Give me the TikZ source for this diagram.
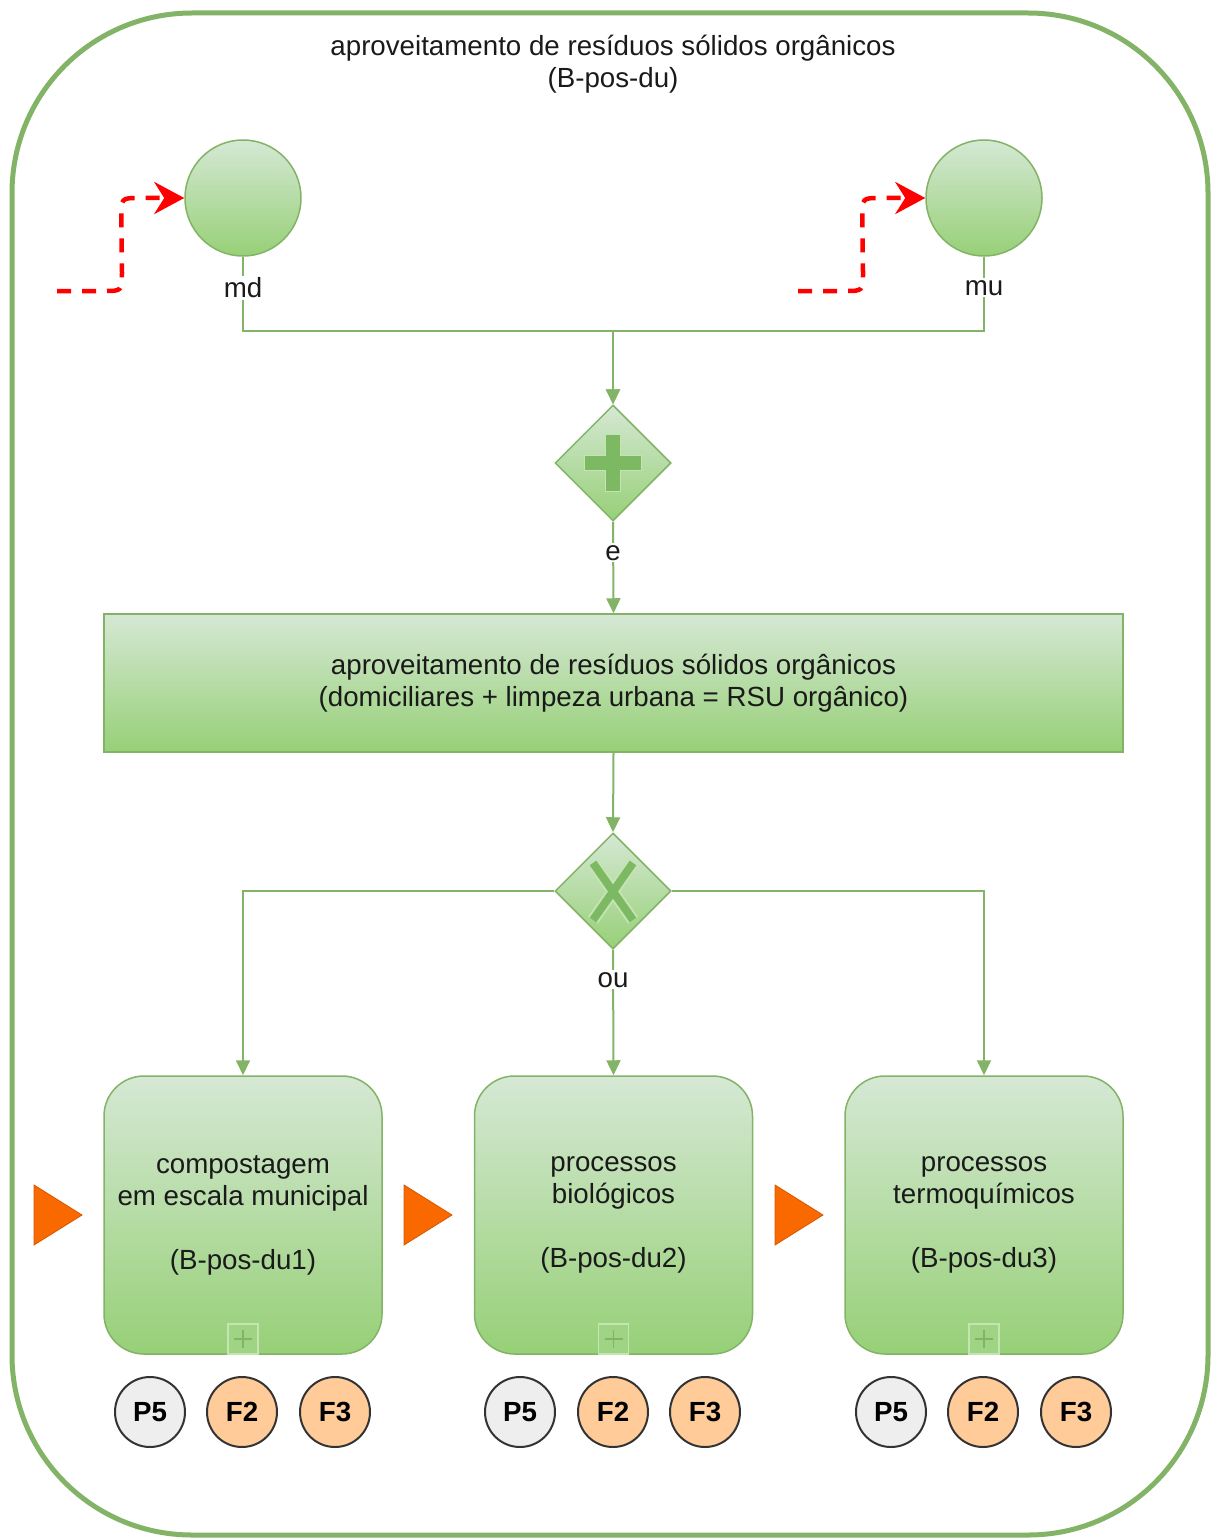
\documentclass[tikz,border=0pt]{standalone}
\usepackage{fontspec}
\setmainfont{Liberation Sans}
\usetikzlibrary{shapes.geometric,arrows.meta,calc}

\definecolor{gline}{HTML}{82B366}
\definecolor{gtop}{HTML}{D5E8D4}
\definecolor{gbot}{HTML}{97D077}
\definecolor{gdark}{HTML}{7DB862}
\definecolor{glight}{HTML}{C4E4B2}
\definecolor{peach}{HTML}{FFCC99}
\definecolor{pale}{HTML}{EEEEEE}
\definecolor{tagline}{HTML}{333333}
\definecolor{orangeT}{HTML}{FA6800}
\definecolor{inkred}{HTML}{FF0000}
\definecolor{ink}{HTML}{1A1A1A}

\newcommand{\bodyfont}{\fontsize{27.7}{32}\selectfont}

\tikzset{
  flow/.style={draw=gline, line width=2pt, -{Triangle[length=15pt,width=14pt]}},
  reddash/.style={draw=inkred, line width=4.5pt, dash pattern=on 14pt off 11pt,
    -{Stealth[length=30pt,width=32pt,inset=10pt]}},
  ev/.style={circle, draw=gline, line width=1.5pt, top color=gtop, bottom color=gbot,
    minimum size=116pt, inner sep=0pt},
  gate/.style={diamond, aspect=1, draw=gline, line width=1.5pt, top color=gtop,
    bottom color=gbot, minimum width=116pt, minimum height=116pt, inner sep=0pt},
  task/.style={rectangle, draw=gline, line width=1.5pt, top color=gtop, bottom color=gbot,
    align=center, font=\bodyfont, text=ink},
  subproc/.style={task, rounded corners=40pt, minimum width=278pt, minimum height=278pt,
    inner sep=0pt},
  marker/.style={rectangle, draw=glight, line width=1.5pt, fill=gbot!85!gtop,
    minimum size=30pt, inner sep=0pt, anchor=south,
    path picture={
      \draw[gline, line width=1.6pt]
        ($(path picture bounding box.center)+(-9,0)$) -- ++(18,0)
        ($(path picture bounding box.center)+(0,-9)$) -- ++(0,18);}},
  lbl/.style={fill=white, inner sep=2pt, font=\bodyfont, text=ink},
  tag/.style={circle, draw=tagline, line width=2pt, minimum size=70pt, inner sep=0pt,
    font=\bodyfont\bfseries, text=black},
  ptag/.style={tag, fill=pale},
  ftag/.style={tag, fill=peach},
  pointer/.style={fill=orangeT, draw=orangeT!85!black, line width=0.8pt},
}

\begin{document}
\begin{tikzpicture}[x=1pt,y=-1pt]
  \useasboundingbox (0,0) rectangle (1210,1538);

  % pool frame
  \draw[gline, line width=5pt, rounded corners=180pt] (12,13) rectangle (1208,1535);
  \node[font=\bodyfont, align=center, text=ink] (title) at (613,64)
    {aproveitamento de resíduos sólidos orgânicos\\(B-pos-du)};

  % start events
  \node[ev] (md) at (243,198) {};
  \node[ev] (mu) at (984,198) {};
  \coordinate (mdsrc) at (57,291);
  \coordinate (musrc) at (798,291);
  \draw[reddash] (mdsrc) -- ($(mdsrc)+(47,0)$)
    .. controls ($(mdsrc)+(65,0)$) .. ($(mdsrc)+(65,-19)$)
    -- ($(md.west)+(-63,19)$)
    .. controls ($(md.west)+(-63,0)$) .. ($(md.west)+(-45,0)$) -- (md.west);
  \draw[reddash] (musrc) -- ($(musrc)+(47,0)$)
    .. controls ($(musrc)+(65,0)$) .. ($(musrc)+(65,-19)$)
    -- ($(mu.west)+(-63,19)$)
    .. controls ($(mu.west)+(-63,0)$) .. ($(mu.west)+(-45,0)$) -- (mu.west);

  % parallel gateway
  \node[gate] (and) at (613,463) {};
  \begin{scope}[shift={(and.center)}]
    \draw[fill=gdark, draw=glight, line width=1.5pt]
      (-7.5,-28.5) -- (7.5,-28.5) -- (7.5,-7.5) -- (28.5,-7.5) -- (28.5,7.5)
      -- (7.5,7.5) -- (7.5,28.5) -- (-7.5,28.5) -- (-7.5,7.5) -- (-28.5,7.5)
      -- (-28.5,-7.5) -- (-7.5,-7.5) -- cycle;
  \end{scope}

  \draw[flow] (md.south) -- node[lbl, pos=0.42] {md} ++(0,74) -| (and.north);
  \draw[flow] (mu.south) -- node[lbl, pos=0.42] {mu} ++(0,74) -| (and.north);

  % main task
  \node[task, minimum width=1019pt, minimum height=138pt] (main) at (613.5,683)
    {aproveitamento de resíduos sólidos orgânicos\\(domiciliares + limpeza urbana = RSU orgânico)};
  \draw[flow] (and.south) -- node[lbl, pos=0.34] {e} (main.north);

  % exclusive gateway
  \node[gate] (xor) at (613,891) {};
  \begin{scope}[shift={(xor.center)}]
    \draw[glight, line width=12pt] (-20,-28) -- (20,29) (20,-28) -- (-20,29);
    \draw[gdark, line width=8pt] (-20,-28) -- (20,29) (20,-28) -- (-20,29);
  \end{scope}
  \draw[flow] (main.south) -- (xor.north);

  % sub-processes
  \node[subproc] (s1) at (243,1215)
    {compostagem\\em escala municipal\\[32pt](B-pos-du1)};
  \node[subproc] (s2) at (613.5,1215)
    {processos\\biológicos\\[32pt](B-pos-du2)};
  \node[subproc] (s3) at (984,1215)
    {processos\\termoquímicos\\[32pt](B-pos-du3)};
  \node[marker] (m1) at (s1.south) {};
  \node[marker] (m2) at (s2.south) {};
  \node[marker] (m3) at (s3.south) {};

  \draw[flow] (xor.west) -| (s1.north);
  \draw[flow] (xor.east) -| (s3.north);
  \draw[flow] (xor.south) -- node[lbl, pos=0.24] {ou} (s2.north);

  % sequence pointers
  \draw[pointer] (34,1185) -- (34,1245) -- (82,1215) -- cycle;
  \draw[pointer] (404,1185) -- (404,1245) -- (452,1215) -- cycle;
  \draw[pointer] (775,1185) -- (775,1245) -- (823,1215) -- cycle;

  % tags
  \node[ptag] (p1) at (150,1412) {P5};
  \node[ftag] (f21) at (242,1412) {F2};
  \node[ftag] (f31) at (335,1412) {F3};
  \node[ptag] (p2) at (520,1412) {P5};
  \node[ftag] (f22) at (613,1412) {F2};
  \node[ftag] (f32) at (705,1412) {F3};
  \node[ptag] (p3) at (891,1412) {P5};
  \node[ftag] (f23) at (983,1412) {F2};
  \node[ftag] (f33) at (1076,1412) {F3};
\end{tikzpicture}
\end{document}
